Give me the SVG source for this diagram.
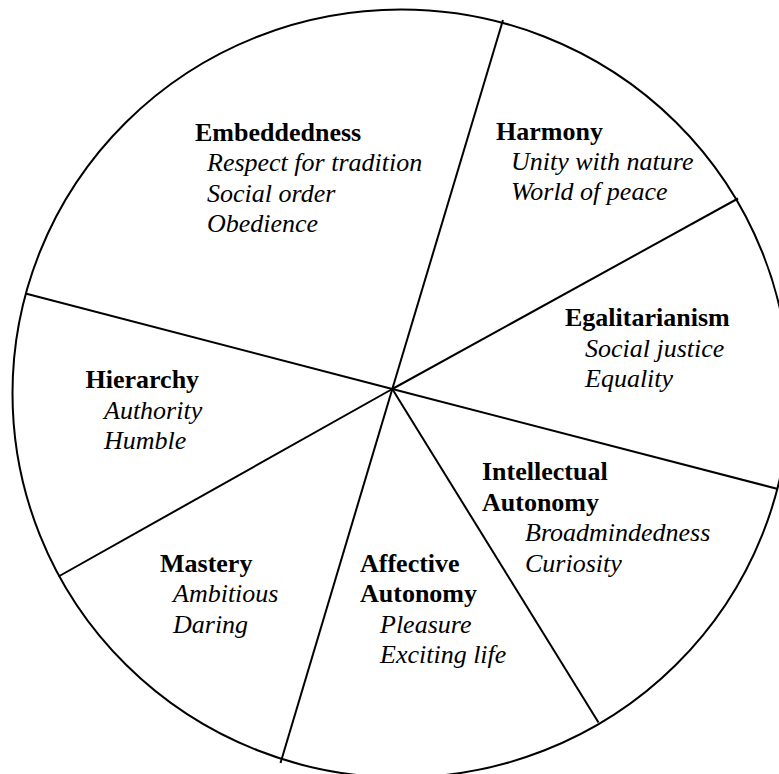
<svg xmlns="http://www.w3.org/2000/svg" width="779" height="774" viewBox="0 0 779 774">
<style>
.t{font-family:"Liberation Serif","Times New Roman",serif;font-size:26px;fill:#000}
.b{font-weight:bold}
.i{font-style:italic}
.ln{stroke:#000;stroke-width:2;fill:none;stroke-linecap:butt}
</style>
<rect width="779" height="774" fill="#fff"/>
<ellipse id="outer" class="ln" cx="401" cy="393.5" rx="388.5" ry="384"/>
<g id="connectors">
<line class="ln" x1="392.3" y1="389" x2="503" y2="20"/>
<line class="ln" x1="392.3" y1="389" x2="738" y2="198.5"/>
<line class="ln" x1="392.3" y1="389" x2="778" y2="489"/>
<line class="ln" x1="392.3" y1="389" x2="598.5" y2="722.5"/>
<line class="ln" x1="392.3" y1="389" x2="280.5" y2="763"/>
<line class="ln" x1="392.3" y1="389" x2="58.5" y2="576.5"/>
<line class="ln" x1="392.3" y1="389" x2="25.5" y2="293.5"/>
</g>
<g id="embeddedness">
<text class="t b" x="195" y="140.5">Embeddedness</text>
<text class="t i" x="207" y="171">Respect for tradition</text>
<text class="t i" x="207" y="201.5">Social order</text>
<text class="t i" x="207" y="232">Obedience</text>
</g>
<g id="harmony">
<text class="t b" x="496" y="140">Harmony</text>
<text class="t i" x="511" y="170">Unity with nature</text>
<text class="t i" x="511" y="200">World of peace</text>
</g>
<g id="egalitarianism">
<text class="t b" x="565" y="325.5">Egalitarianism</text>
<text class="t i" x="585" y="356.5">Social justice</text>
<text class="t i" x="585" y="387">Equality</text>
</g>
<g id="hierarchy">
<text class="t b" x="85.5" y="387.5">Hierarchy</text>
<text class="t i" x="104" y="418.5">Authority</text>
<text class="t i" x="104" y="449">Humble</text>
</g>
<g id="intellectual-autonomy">
<text class="t b" x="482" y="479.5">Intellectual</text>
<text class="t b" x="482" y="510.5">Autonomy</text>
<text class="t i" x="525" y="541">Broadmindedness</text>
<text class="t i" x="525" y="571.5">Curiosity</text>
</g>
<g id="mastery">
<text class="t b" x="160" y="571.5">Mastery</text>
<text class="t i" x="173" y="602">Ambitious</text>
<text class="t i" x="173" y="632.5">Daring</text>
</g>
<g id="affective-autonomy">
<text class="t b" x="360" y="571.5">Affective</text>
<text class="t b" x="360" y="602">Autonomy</text>
<text class="t i" x="380" y="632.5">Pleasure</text>
<text class="t i" x="380" y="663">Exciting life</text>
</g>
</svg>
